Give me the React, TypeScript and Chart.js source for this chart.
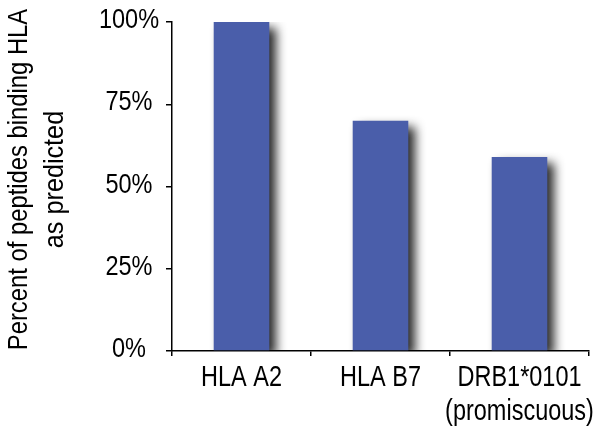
import React, { useEffect, useRef } from "react";
import { Chart, registerables } from "chart.js";

Chart.register(...registerables);

const categories: string[][] = [["HLA A2"], ["HLA B7"], ["DRB1*0101", "(promiscuous)"]];
const values: number[] = [100, 70, 59];
const yMin = 0;
const yMax = 100;
const yStep = 25;
const yTitle: string[] = ["Percent of peptides binding HLA", "as predicted"];

const FONT = '"Liberation Sans", Arial, sans-serif';

const shadowPlugin = {
  id: "barShadow",
  beforeDatasetDraw(chart: any) {
    const ctx = chart.ctx;
    ctx.save();
    ctx.shadowColor = "rgba(0,0,0,0.85)";
    ctx.shadowBlur = 10;
    ctx.shadowOffsetX = 7;
    ctx.shadowOffsetY = 6;
  },
  afterDatasetDraw(chart: any) {
    chart.ctx.restore();
  },
};

// Draws tick labels and axis title with a narrow (horizontally condensed) face
const narrowTextPlugin = {
  id: "narrowText",
  afterDraw(chart: any) {
    const ctx = chart.ctx;
    const xs = chart.scales.x;
    const ys = chart.scales.y;
    const area = chart.chartArea;
    ctx.save();
    ctx.fillStyle = "#000";

    // y tick labels
    ctx.font = `28px ${FONT}`;
    ctx.textAlign = "center";
    ctx.textBaseline = "alphabetic";
    ys.ticks.forEach((t: any) => {
      const y = ys.getPixelForValue(t.value);
      ctx.save();
      ctx.translate(area.left - 43, y + 6);
      ctx.scale(0.84, 1);
      ctx.fillText(String(t.value) + "%", 0, 0);
      ctx.restore();
    });

    // x tick labels
    ctx.font = `29px ${FONT}`;
    categories.forEach((lines, i) => {
      const x = xs.getPixelForValue(i);
      lines.forEach((line, j) => {
        ctx.save();
        ctx.translate(x, area.bottom + 35 + j * 34);
        ctx.scale(0.81, 1);
        ctx.fillText(line, 0, 0);
        ctx.restore();
      });
    });

    // y title (rotated)
    ctx.font = `28px ${FONT}`;
    const cy = (area.top + area.bottom) / 2 - 7;
    yTitle.forEach((line, j) => {
      ctx.save();
      ctx.translate(27 + j * 36, cy);
      ctx.rotate(-Math.PI / 2);
      ctx.scale(j === 0 ? 0.85 : 0.9, 1);
      ctx.fillText(line, 0, 0);
      ctx.restore();
    });
    ctx.restore();
  },
};

export default function App() {
  const ref = useRef<HTMLCanvasElement | null>(null);
  useEffect(() => {
    if (!ref.current) return;
    const chart = new Chart(ref.current, {
      type: "bar",
      data: {
        labels: categories.map((c) => c.join(" ")),
        datasets: [
          {
            data: values,
            backgroundColor: "rgb(74,94,170)",
            borderWidth: 0,
            barPercentage: 0.4,
            categoryPercentage: 1,
          },
        ],
      },
      plugins: [shadowPlugin, narrowTextPlugin],
      options: {
        responsive: false,
        animation: false,
        events: [],
        layout: { padding: { top: 22, right: 11, left: 0, bottom: 0 } },
        plugins: { legend: { display: false }, tooltip: { enabled: false } },
        scales: {
          x: {
            offset: true,
            grid: { display: true, drawOnChartArea: false, tickLength: 5, color: "#000", offset: true, lineWidth: 1.5 },
            border: { display: true, color: "#000", width: 1.5 },
            ticks: { display: false, autoSkip: false },
            afterFit: (scale: any) => {
              scale.height = 83;
            },
          },
          y: {
            min: yMin,
            max: yMax,
            grid: { display: true, drawOnChartArea: false, tickLength: 6, color: "#000", lineWidth: 1.5 },
            border: { display: true, color: "#000", width: 1.5 },
            ticks: { display: false, stepSize: yStep },
            afterFit: (scale: any) => {
              scale.width = 172;
            },
          },
        },
      },
    });
    return () => chart.destroy();
  }, []);
  return (
    <div style={{ position: "absolute", left: 0, top: 0, width: 600, height: 434, background: "#fff" }}>
      <canvas ref={ref} width={600} height={434} style={{ display: "block" }} />
    </div>
  );
}
